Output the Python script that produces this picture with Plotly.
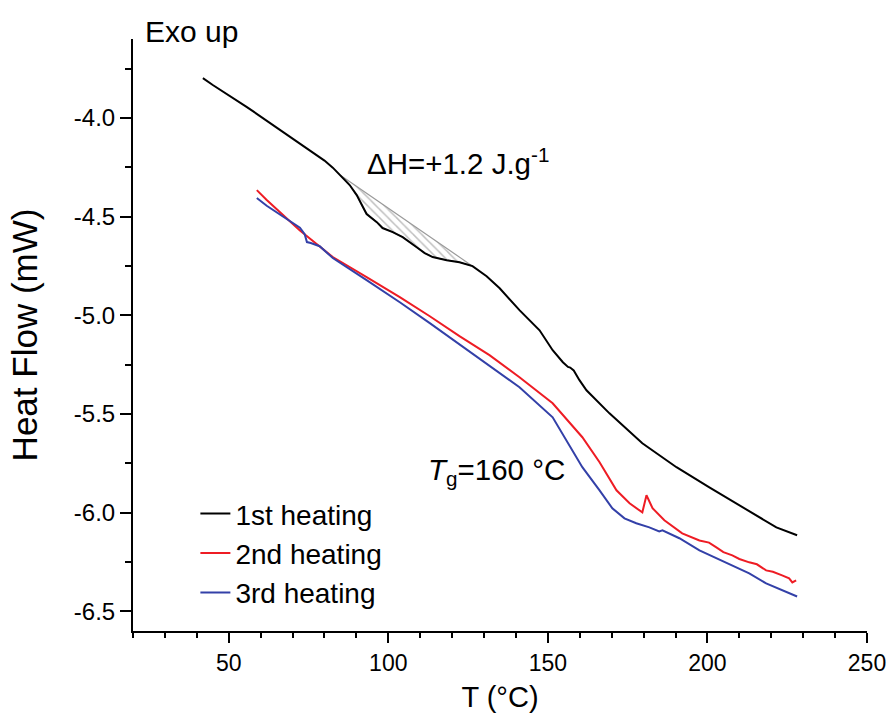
import plotly.graph_objects as go

# ---- data ----
t1 = [41.9, 45.0, 55.7, 66.0, 76.3, 80.0, 82.6, 85.1, 87.9, 90.1, 92.0, 93.2,
      96.4, 98.2, 101.4, 104.5, 108.9, 111.4, 113.9, 118.3, 122.3, 126.4, 130.8, 134.9,
      141.1, 147.4, 151.5, 154.7, 156.3, 157.0, 158.1, 159.9, 162.1, 169.3, 179.6, 190.3,
      200.6, 210.9, 221.6, 228.1]
h1 = [-3.798, -3.833, -3.945, -4.061, -4.178, -4.216, -4.252, -4.292, -4.340,
      -4.391, -4.452, -4.487, -4.528, -4.558, -4.579, -4.604, -4.655, -4.685, -4.705, -4.721,
      -4.731, -4.751, -4.802, -4.863, -4.974, -5.076, -5.177, -5.238, -5.262, -5.265, -5.280,
      -5.329, -5.380, -5.497, -5.649, -5.770, -5.872, -5.973, -6.075, -6.115]

t2 = [58.8, 61.9, 72.3, 82.6, 93.2, 103.6, 113.0, 122.3, 131.7, 141.1, 151.5, 160.8, 166.2,
      171.5, 175.6, 179.6, 180.9, 182.8, 186.5, 192.1, 197.5, 200.5, 202.8, 205.0, 207.8,
      210.0, 213.1, 215.5, 218.4, 220.5, 223.4, 225.6, 226.6, 227.8]
h2 = [-4.366, -4.416, -4.570, -4.705, -4.807, -4.908, -5.005, -5.106, -5.202, -5.314, -5.446,
      -5.618, -5.745, -5.887, -5.953, -5.999, -5.912, -5.978, -6.039, -6.105, -6.141, -6.152,
      -6.176, -6.200, -6.217, -6.235, -6.252, -6.262, -6.293, -6.300, -6.318, -6.333, -6.354,
      -6.343]

t3 = [58.8, 61.9, 72.3, 73.8, 74.5, 75.7, 78.5, 82.6, 93.2, 103.6, 113.0, 122.3, 131.7,
      141.1, 151.5, 157.7, 160.8, 166.2, 170.2, 174.0, 177.7, 181.8, 184.9, 185.9, 191.2,
      197.5, 202.8, 207.8, 213.1, 218.4, 223.4, 228.1]
h3 = [-4.406, -4.445, -4.556, -4.589, -4.629, -4.634, -4.650, -4.710, -4.822, -4.934, -5.040,
      -5.147, -5.253, -5.365, -5.517, -5.684, -5.770, -5.887, -5.978, -6.029, -6.054, -6.075,
      -6.095, -6.090, -6.130, -6.191, -6.232, -6.267, -6.308, -6.359, -6.394, -6.425]

# integration baseline of the 1st heating event
base_t = [85.1, 126.4]
base_h = [-4.292, -4.751]

series_names = ["1st heating", "2nd heating", "3rd heating"]
series_colors = ["#000000", "#ee1c24", "#3340a8"]

x_ticks = [50, 100, 150, 200, 250]
y_ticks = [-4.0, -4.5, -5.0, -5.5, -6.0, -6.5]
y_ticklabels = ["-4.0", "-4.5", "-5.0", "-5.5", "-6.0", "-6.5"]

FONT = "Liberation Sans, Arial, sans-serif"

fig = go.Figure()

# hatched area between baseline and 1st heating curve
seg = [(t, h) for t, h in zip(t1, h1) if base_t[0] <= t <= base_t[1]]
poly_t = base_t + [p[0] for p in reversed(seg)]
poly_h = base_h + [p[1] for p in reversed(seg)]
fig.add_trace(go.Scatter(
    x=poly_t, y=poly_h, mode="lines", fill="toself",
    fillcolor="rgba(0,0,0,0)",
    fillpattern=dict(shape="\\", fgcolor="#808080", bgcolor="white", size=6, solidity=0.25),
    line=dict(color="#9a9a9a", width=1.2), showlegend=False, hoverinfo="skip"))

for name, col, xs, ys in zip(series_names, series_colors, [t1, t2, t3], [h1, h2, h3]):
    fig.add_trace(go.Scatter(x=xs, y=ys, mode="lines", name=name,
                             line=dict(color=col, width=2)))

fig.update_layout(
    width=891, height=722,
    margin=dict(l=133, r=24, t=39, b=91, autoexpand=False),
    paper_bgcolor="white", plot_bgcolor="white",
    font=dict(family=FONT, color="black", size=22),
    legend=dict(x=0.085, y=0.24, xanchor="left", yanchor="top",
                font=dict(size=28), bgcolor="rgba(0,0,0,0)",
                tracegroupgap=0, itemwidth=30),
    annotations=[
        dict(text="Exo up", xref="paper", yref="paper", x=0.0136, y=1.012,
             xanchor="left", yanchor="middle", showarrow=False, font=dict(size=30)),
        dict(text="ΔH=+1.2 J.g<sup>-1</sup>", xref="x", yref="y", x=92.6, y=-4.22,
             xanchor="left", yanchor="middle", showarrow=False, font=dict(size=29.5)),
        dict(text="<i>T</i><sub>g</sub>=160 °C", xref="x", yref="y", x=111.9, y=-5.79,
             xanchor="left", yanchor="middle", showarrow=False, font=dict(size=29.5)),
    ],
)

fig.update_xaxes(
    range=[20, 250], showgrid=False, zeroline=False, automargin=False,
    showline=True, linecolor="black", linewidth=2,
    ticks="outside", ticklen=10, tickwidth=2, tickcolor="black",
    tickvals=x_ticks, ticklabeloverflow="allow",
    minor=dict(dtick=10, tick0=0, ticks="outside", ticklen=5, tickwidth=2, tickcolor="black"),
    title=dict(text="T (°C)", font=dict(size=29), standoff=12),
    tickfont=dict(size=23),
)
fig.update_yaxes(
    range=[-6.6, -3.6], showgrid=False, zeroline=False, automargin=False,
    showline=True, linecolor="black", linewidth=2,
    ticks="outside", ticklen=11, tickwidth=2, tickcolor="black",
    tickvals=y_ticks, ticktext=y_ticklabels, ticklabeloverflow="allow",
    minor=dict(dtick=0.25, tick0=0, ticks="outside", ticklen=6, tickwidth=2, tickcolor="black"),
    title=dict(text="Heat Flow (mW)", font=dict(size=35), standoff=26),
    tickfont=dict(size=24),
)

# remove the default 8px page margin so the figure fills the window exactly
fig.write_html("out.html", config={"displayModeBar": False},
               post_script="document.body.style.margin='0px';document.body.style.overflow='hidden';")
